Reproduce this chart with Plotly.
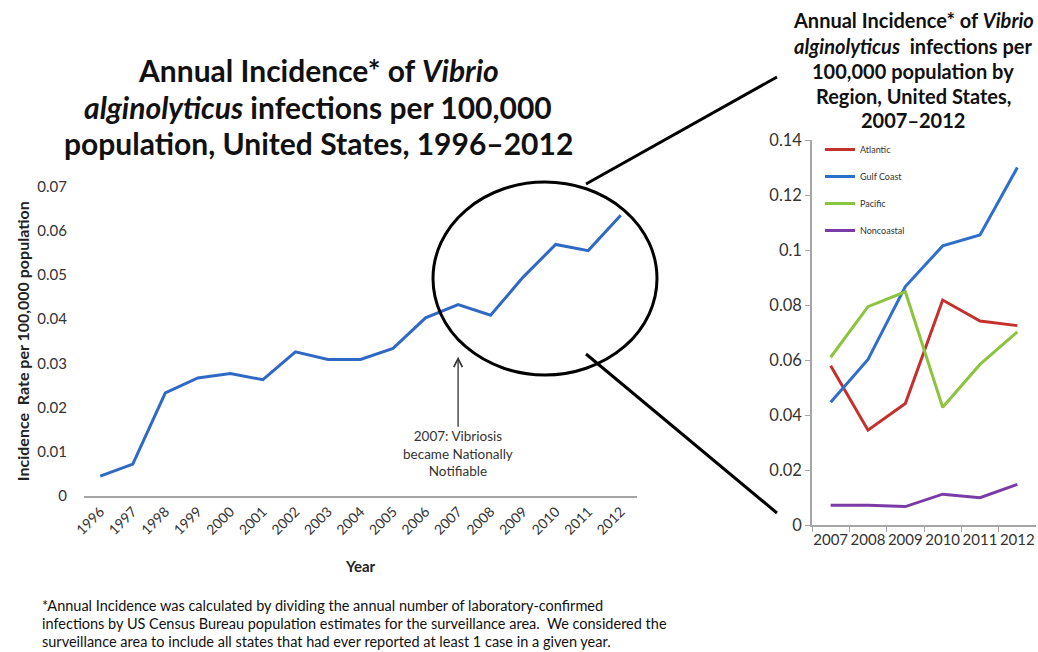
import plotly.graph_objects as go

# ---------------- data ----------------
years_all = [str(y) for y in range(1996, 2013)]
us_rate = [0.0045, 0.0072, 0.0233, 0.0267, 0.0277, 0.0263, 0.0326, 0.0309, 0.0309,
           0.0334, 0.0403, 0.0433, 0.0409, 0.0495, 0.0569, 0.0555, 0.0635]

years_region = [str(y) for y in range(2007, 2013)]
atlantic = [0.0579, 0.0345, 0.0442, 0.0818, 0.0742, 0.0725]
gulf_coast = [0.0446, 0.0602, 0.0867, 0.1015, 0.1055, 0.1300]
pacific = [0.0610, 0.0794, 0.0848, 0.0428, 0.0584, 0.0702]
noncoastal = [0.0072, 0.0072, 0.0067, 0.0112, 0.0099, 0.0148]

left_yticks = [0, 0.01, 0.02, 0.03, 0.04, 0.05, 0.06, 0.07]
left_yticklabels = ["0", "0.01", "0.02", "0.03", "0.04", "0.05", "0.06", "0.07"]
right_yticks = [0, 0.02, 0.04, 0.06, 0.08, 0.10, 0.12, 0.14]
right_yticklabels = ["0", "0.02", "0.04", "0.06", "0.08", "0.1", "0.12", "0.14"]

main_title_lines = ["<b>Annual Incidence* of <i>Vibrio</i></b>",
                    "<b><i>alginolyticus</i> infections per 100,000</b>",
                    "<b>population, United States, 1996–2012</b>"]
right_title_lines = ["<b>Annual Incidence* of <i>Vibrio</i></b>",
                     "<b><i>alginolyticus</i>  infections per</b>",
                     "<b>100,000 population by</b>",
                     "<b>Region, United States,</b>",
                     "<b>2007–2012</b>"]
footnote_lines = ["*Annual Incidence was calculated by dividing the annual number of laboratory-confirmed",
                  "infections by US Census Bureau population estimates for the surveillance area.  We considered the",
                  "surveillance area to include all states that had ever reported at least 1 case in a given year."]
event_year = "2007"
event_text = "2007: Vibriosis<br>became Nationally<br>Notifiable"

W, H = 1038, 652
FONT = "Lato"
TXT = "#222222"

def px(x):
    return x / W

def py(y):
    return 1 - y / H

fig = go.Figure()

fig.add_trace(go.Scatter(
    x=years_all, y=us_rate, mode="lines", xaxis="x", yaxis="y",
    line=dict(color="#3069c3", width=3), showlegend=False, hoverinfo="x+y"))

regions = [("Atlantic", atlantic, "#c4302b"),
           ("Gulf Coast", gulf_coast, "#2f6fcc"),
           ("Pacific", pacific, "#8cc43e"),
           ("Noncoastal", noncoastal, "#7a3ba6")]
for name, vals, col in regions:
    fig.add_trace(go.Scatter(
        x=years_region, y=vals, mode="lines", name=name, xaxis="x2", yaxis="y2",
        legendgroup=name, line=dict(color=col, width=3)))

fig.update_layout(
    width=W, height=H,
    margin=dict(l=0, r=0, t=0, b=0, pad=0, autoexpand=False),
    paper_bgcolor="white", plot_bgcolor="white",
    font=dict(family=FONT, color=TXT),
    xaxis=dict(domain=[px(84), px(637)], type="category", range=[-0.5, 16.5],
               anchor="y", automargin=False, showgrid=False, zeroline=False, showline=True,
               linecolor="#a6a6a6", linewidth=2, ticks="", tickangle=-45,
               tickfont=dict(size=14, color="#333333"),
               title=dict(text="<b>Year</b>", font=dict(size=15, color=TXT), standoff=25)),
    yaxis=dict(domain=[py(496), py(186.5)], range=[0, 0.07], anchor="x", automargin=False,
               tickvals=left_yticks, ticktext=left_yticklabels,
               showgrid=False, zeroline=False, showline=False, ticks="",
               ticklabelstandoff=16,
               tickfont=dict(size=15, color="#333333"),
               title=dict(text="<b>Incidence  Rate per 100,000 population</b>",
                          font=dict(size=16, color=TXT), standoff=3)),
    xaxis2=dict(domain=[px(812), px(1036)], type="category", range=[-0.5, 5.5],
                anchor="y2", automargin=False, showgrid=False, zeroline=False, showline=True,
                linecolor="#a6a6a6", linewidth=1.5, ticks="outside", ticklen=5,
                tickcolor="#a6a6a6", tickson="boundaries", tickangle=0,
                tickfont=dict(size=15, color="#333333")),
    yaxis2=dict(domain=[py(525), py(140)], range=[0, 0.14], anchor="x2", automargin=False,
                tickvals=right_yticks, ticktext=right_yticklabels,
                showgrid=False, zeroline=False, showline=True,
                linecolor="#a6a6a6", linewidth=1.5, ticks="outside", ticklen=5,
                tickcolor="#a6a6a6", tickfont=dict(size=16.5, color="#333333")),
    legend=dict(x=px(820), y=py(135), xanchor="left", yanchor="top",
                bgcolor="rgba(0,0,0,0)", borderwidth=0,
                font=dict(size=9, color="#333333"), tracegroupgap=8,
                itemwidth=30),
)

# main title (one annotation per line)
for line, yy in zip(main_title_lines, [70, 107, 143]):
    fig.add_annotation(
        xref="paper", yref="paper", x=px(318), y=py(yy), xanchor="center", yanchor="middle",
        text=line, showarrow=False, font=dict(size=30, color="#111111", family=FONT))

# right title
for line, yy in zip(right_title_lines, [20, 46, 71.5, 96.5, 120]):
    fig.add_annotation(
        xref="paper", yref="paper", x=px(913), y=py(yy), xanchor="center", yanchor="middle",
        text=line, showarrow=False, font=dict(size=20, color="#111111", family=FONT))

# arrow annotation at 2007
fig.add_annotation(
    xref="x", yref="y", x=years_all.index(event_year), y=0.0315,
    ax=0, ay=97, axref="pixel", ayref="pixel",
    text=event_text,
    showarrow=True, arrowhead=5, arrowsize=1.3, arrowwidth=1.3, arrowcolor="#333333",
    standoff=0, font=dict(size=13.5, color="#333333"), align="center")

# footnote
for line, yy in zip(footnote_lines, [605, 623.5, 641.5]):
    fig.add_annotation(
        xref="paper", yref="paper", x=px(40), y=py(yy), xanchor="left", yanchor="middle",
        text=line, showarrow=False, font=dict(size=14.5, color="#111111"), align="left")

# magnifier circle and connector lines (decoration)
fig.add_shape(type="circle", xref="paper", yref="paper",
              x0=px(433), x1=px(657), y0=py(375), y1=py(182),
              line=dict(color="black", width=3))
fig.add_shape(type="line", xref="paper", yref="paper",
              x0=px(586), y0=py(184), x1=px(777), y1=py(77),
              line=dict(color="black", width=3))
fig.add_shape(type="line", xref="paper", yref="paper",
              x0=px(586), y0=py(354), x1=px(777), y1=py(513),
              line=dict(color="black", width=3))

fig.write_html("out.html", config={"displayModeBar": False},
               post_script="document.body.style.margin='0';")
